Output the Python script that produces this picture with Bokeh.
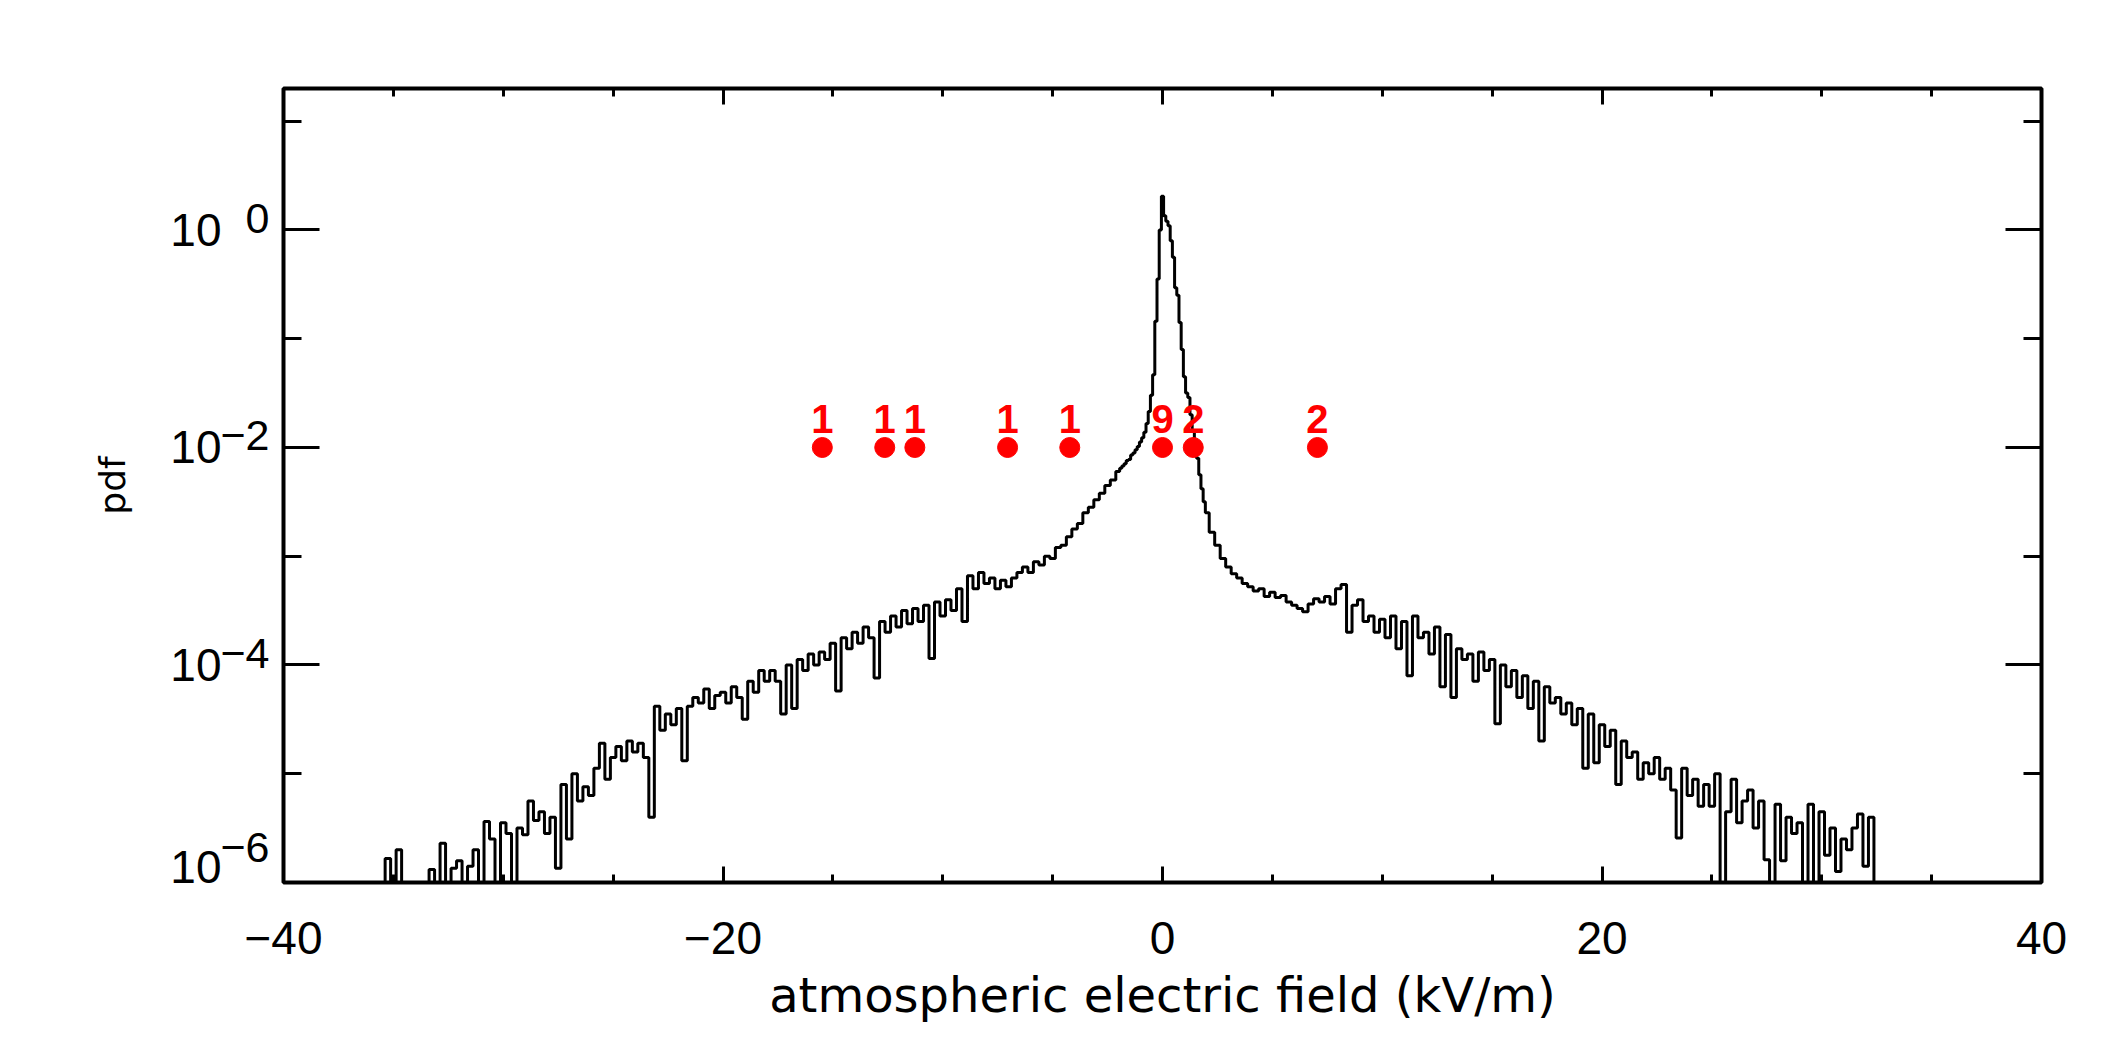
import numpy as np
from bokeh.plotting import figure
from bokeh.models import (Range1d, FixedTicker, LinearAxis, LogAxis,
                          ColumnDataSource, CustomJSTickFormatter)
from bokeh.embed import file_html
from bokeh.resources import INLINE
from bokeh.core.properties import value

# ---------------- data ----------------
# log10(pdf) per histogram bin; -9 marks empty bins (below the axis)
# left wing: bins -36.0 ... -2.25 (step 0.25)
log10_pdf_left = [
    -9, -9, -9, -5.78, -9, -5.7, -9, -9,
    -9, -9, -9, -5.88, -9, -5.64, -9, -5.87,
    -5.8, -9, -5.85, -5.7, -9, -5.44, -5.6, -9,
    -5.45, -5.55, -9, -5.5, -5.56, -5.25, -5.43, -5.35,
    -5.55, -5.4, -5.87, -5.1, -5.6, -5.0, -5.25, -5.12,
    -5.2, -4.95, -4.72, -5.05, -4.85, -4.75, -4.88, -4.7,
    -4.8, -4.72, -4.85, -5.4, -4.38, -4.6, -4.45, -4.55,
    -4.4, -4.88, -4.38, -4.3, -4.35, -4.22, -4.4, -4.28,
    -4.25, -4.35, -4.2, -4.3, -4.5, -4.15, -4.25, -4.05,
    -4.15, -4.05, -4.15, -4.45, -4.0, -4.4, -3.95, -4.05,
    -3.9, -4.0, -3.88, -3.95, -3.8, -4.24, -3.75, -3.85,
    -3.7, -3.8, -3.65, -3.75, -4.12, -3.6, -3.7, -3.55,
    -3.65, -3.5, -3.62, -3.48, -3.6, -3.45, -3.94, -3.42,
    -3.55, -3.4, -3.5, -3.3, -3.6, -3.18, -3.3, -3.15,
    -3.25, -3.2, -3.3, -3.22, -3.28, -3.2, -3.15, -3.1,
    -3.15, -3.05, -3.08, -3.0, -3.02, -2.92, -2.9, -2.82,
    -2.75, -2.7, -2.6, -2.55, -2.48, -2.42, -2.35, -2.3,
]
# core: bins -2.0 ... 2.0 (step 0.1)
log10_pdf_core = [
    -2.22, -2.19, -2.17, -2.15, -2.12, -2.11, -2.07, -2.05, -2.02, -1.99,
    -1.95, -1.91, -1.86, -1.78, -1.67, -1.52, -1.33, -0.84, -0.45, 0.0,
    0.31,
    0.13, 0.08, 0.04, -0.1, -0.25, -0.53, -0.6, -0.85, -1.1, -1.35,
    -1.5, -1.54, -1.7, -1.85, -2.0, -2.1, -2.25, -2.38, -2.5, -2.6,
]
# right wing: bins 2.25 ... 33.0 (step 0.25)
log10_pdf_right = [
    -2.78, -2.9, -3.02, -3.1, -3.16, -3.2, -3.25, -3.28,
    -3.32, -3.3, -3.37, -3.33, -3.38, -3.36, -3.42, -3.45,
    -3.48, -3.51, -3.44, -3.39, -3.42, -3.37, -3.44, -3.3,
    -3.26, -3.7, -3.45, -3.4, -3.6, -3.55, -3.7, -3.58,
    -3.75, -3.55, -3.85, -3.6, -4.1, -3.55, -3.75, -3.7,
    -3.9, -3.65, -4.2, -3.72, -4.3, -3.85, -3.95, -3.9,
    -4.15, -3.88, -4.05, -3.95, -4.54, -4.0, -4.2, -4.05,
    -4.3, -4.1, -4.4, -4.15, -4.7, -4.2, -4.35, -4.3,
    -4.45, -4.35, -4.55, -4.4, -4.95, -4.45, -4.9, -4.55,
    -4.75, -4.6, -5.1, -4.7, -4.85, -4.8, -5.05, -4.9,
    -5.0, -4.85, -5.05, -4.95, -5.15, -5.59, -4.95, -5.2,
    -5.05, -5.3, -5.1, -5.3, -5.0, -9, -5.35, -5.05,
    -5.45, -5.25, -5.15, -5.5, -5.25, -5.79, -9, -5.28,
    -5.8, -5.4, -5.55, -5.45, -9, -5.28, -9, -5.35,
    -5.75, -5.5, -5.9, -5.6, -5.7, -5.5, -5.37, -5.85,
    -5.4, -9, -9, -9,
]
bins_left = -36.0 + 0.25 * np.arange(len(log10_pdf_left))
bins_core = np.round(-2.0 + 0.1 * np.arange(len(log10_pdf_core)), 2)
bins_right = 2.25 + 0.25 * np.arange(len(log10_pdf_right))

# red events
event_field = [-15.48, -12.64, -11.27, -7.05, -4.22, 0.0, 1.40, 7.05]
event_counts = ["1", "1", "1", "1", "1", "9", "2", "2"]
event_level = 1e-2

# axes
x_major = [-40, -20, 0, 20, 40]
x_major_text = ["\u221240", "\u221220", "0", "20", "40"]
x_minor = [-35, -30, -25, -15, -10, -5, 5, 10, 15, 25, 30, 35]
y_major = [1.0, 1e-2, 1e-4, 1e-6]
y_major_base = ["10", "10", "10", "10"]
y_major_exp = ["0", "\u22122", "\u22124", "\u22126"]
y_minor = [10.0, 1e-1, 1e-3, 1e-5]

# ---------------- figure ----------------
W, H = 2100, 1040
p = figure(width=W, height=H, x_range=Range1d(-40, 40), y_range=Range1d(1e-6, 20),
           y_axis_type="log", output_backend="svg", toolbar_location=None,
           min_border_left=283, min_border_right=59, min_border_top=88,
           min_border_bottom=158)
p.xgrid.visible = False
p.ygrid.visible = False
p.background_fill_color = "white"
p.border_fill_color = "white"
p.outline_line_color = "black"
p.outline_line_width = 4

xt = FixedTicker(ticks=x_major, minor_ticks=x_minor)
yt = FixedTicker(ticks=y_major, minor_ticks=y_minor)
blank = CustomJSTickFormatter(code="return ''")


def style(ax, maj, mnr):
    ax.axis_line_color = None
    ax.major_tick_in = maj
    ax.major_tick_out = 0
    ax.minor_tick_in = mnr
    ax.minor_tick_out = 0
    ax.major_tick_line_width = 3
    ax.minor_tick_line_width = 3
    ax.major_tick_line_color = "black"
    ax.minor_tick_line_color = "black"


xax = p.xaxis[0]
xax.ticker = xt
style(xax, 16, 8)
xax.major_label_overrides = {v: t for v, t in zip(x_major, x_major_text)}
xax.major_label_text_font = "Liberation Sans"
xax.major_label_text_font_size = "46px"
xax.major_label_text_color = "black"
xax.major_label_standoff = 39
xax.axis_label = "atmospheric electric field (kV/m)"
xax.axis_label_text_font = "DejaVu Sans"
xax.axis_label_text_font_size = "48px"
xax.axis_label_text_font_style = "normal"
xax.axis_label_text_color = "black"
xax.axis_label_standoff = 10


def pad_lines(n):
    return "\n " * n


# inner left axis: ticks + exponents (raised by trailing empty lines)
yax = p.yaxis[0]
yax.ticker = yt
style(yax, 36, 18)
yax.major_label_overrides = {v: t + pad_lines(3 if v <= 1e-6 else 1)
                             for v, t in zip(y_major, y_major_exp)}
yax.major_label_text_font = "Liberation Sans"
yax.major_label_text_font_size = "43px"
yax.major_label_text_line_height = 0.5
yax.major_label_text_color = "black"
yax.major_label_standoff = 14

# outer left axis: the "10" bases and the axis title
ybase = LogAxis(ticker=yt)
ybase.axis_line_color = None
ybase.major_tick_in = 0
ybase.major_tick_out = 0
ybase.minor_tick_in = 0
ybase.minor_tick_out = 0
ybase.major_tick_line_color = None
ybase.minor_tick_line_color = None
ybase.major_label_overrides = {v: t + pad_lines(1 if v <= 1e-6 else 0)
                               for v, t in zip(y_major, y_major_base)}
ybase.major_label_text_font = "Liberation Sans"
ybase.major_label_text_font_size = "46px"
ybase.major_label_text_line_height = 0.6
ybase.major_label_text_color = "black"
ybase.major_label_standoff = -4
ybase.axis_label = "pdf"
ybase.axis_label_text_font = "DejaVu Sans"
ybase.axis_label_text_font_size = "36px"
ybase.axis_label_text_font_style = "normal"
ybase.axis_label_text_color = "black"
ybase.axis_label_standoff = 34
p.add_layout(ybase, "left")

top = LinearAxis(ticker=xt, formatter=blank, major_label_standoff=0)
style(top, 16, 8)
p.add_layout(top, "above")
right = LogAxis(ticker=yt, formatter=blank, major_label_standoff=0)
style(right, 36, 18)
p.add_layout(right, "right")

# pdf curve
xs = np.concatenate([bins_left, bins_core, bins_right])
ys = 10.0 ** np.concatenate([log10_pdf_left, log10_pdf_core, log10_pdf_right])
src = ColumnDataSource(dict(x=xs, y=ys))
p.step(x="x", y="y", source=src, mode="center", line_color="black", line_width=3)

# red events
ev = ColumnDataSource(dict(x=event_field, y=[event_level] * len(event_field),
                           t=event_counts))
p.scatter(x="x", y="y", source=ev, size=20, marker="circle",
          fill_color="#ff0000", line_color="#ff0000")
p.text(x="x", y="y", text="t", source=ev, text_align="center",
       text_baseline="alphabetic", y_offset=-28, text_color="#ff0000",
       text_font=value("Liberation Sans"), text_font_style="bold",
       text_font_size="40px")

open("out.html", "w").write(file_html(p, INLINE))
